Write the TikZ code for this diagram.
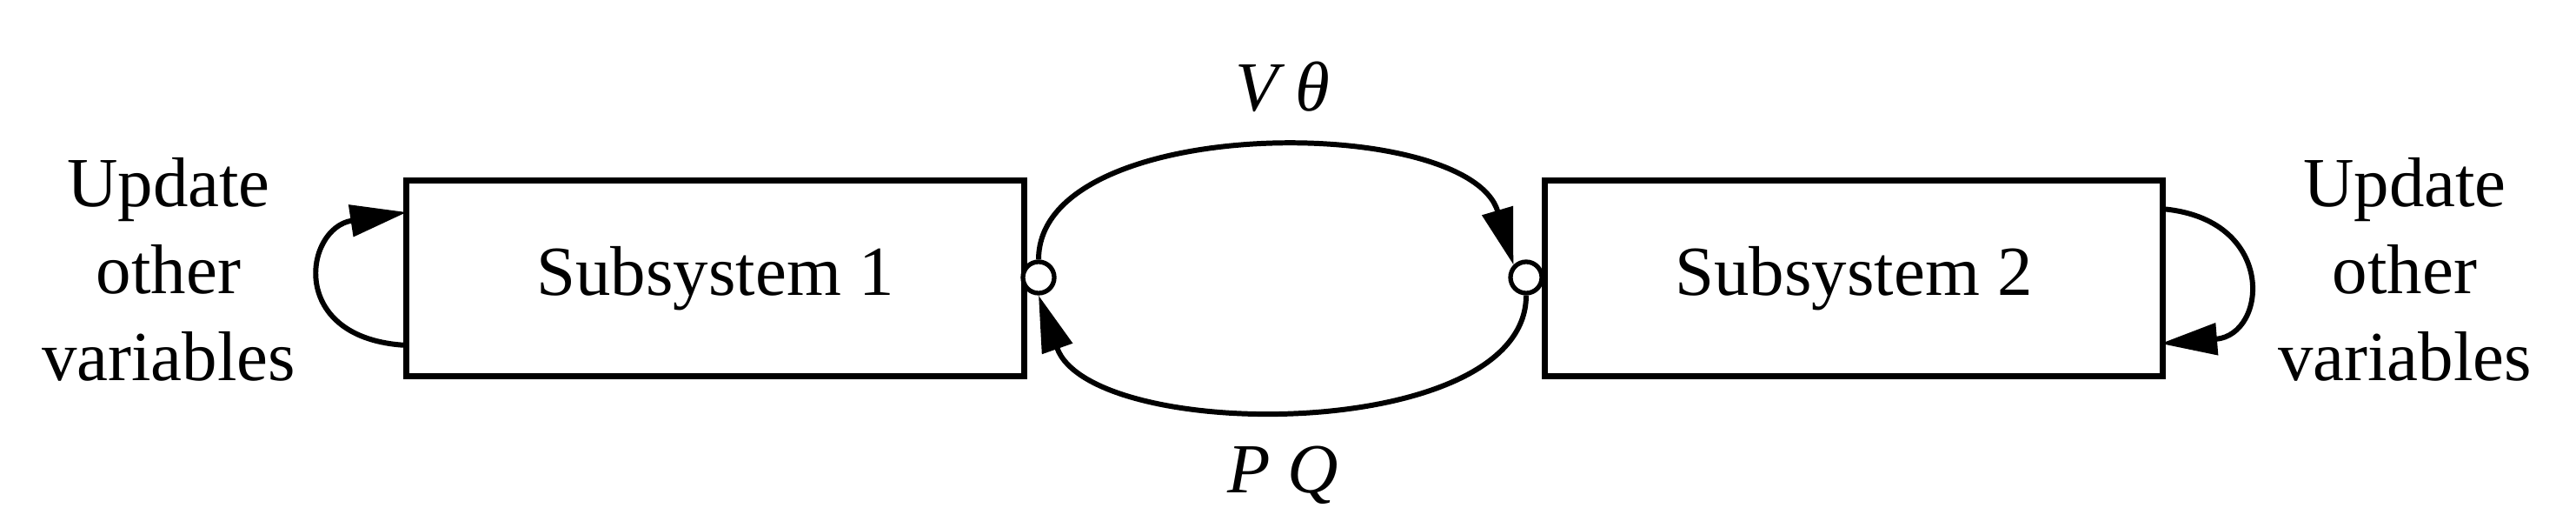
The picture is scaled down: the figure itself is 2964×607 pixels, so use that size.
\documentclass[tikz,border=0pt]{standalone}
\usepackage{fontspec}
\setmainfont{Liberation Serif}
\usetikzlibrary{arrows.meta}
\begin{document}
\begin{tikzpicture}[x=0.01cm,y=-0.01cm,
  box/.style={draw,line width=1.9pt,minimum width=7.1cm,minimum height=2.25cm,font=\fontsize{23}{28}\selectfont},
  port/.style={circle,draw,line width=1.5pt,fill=white,inner sep=0pt,minimum size=0.36cm},
  lbl/.style={align=center,font=\fontsize{23}{28.5}\selectfont},
  conn/.style={line width=1.7pt,-{Triangle[length=0.65cm,width=0.36cm]}}]
\useasboundingbox (0,0) rectangle (2964,607);
\node[box] (b1) at (823,320) {Subsystem 1};
\node[box] (b2) at (2133,320) {Subsystem 2};
\coordinate (l1) at (468,397);
\coordinate (l2) at (468,244);
\coordinate (r1) at (2486,240);
\coordinate (r2) at (2486,395);
\draw[conn] (l1) .. controls (330,390) and (350,262) .. (l2);
\draw[conn] (r1) .. controls (2620,250) and (2610,385) .. (r2);
\node[port] (c1) at (1195,319) {};
\node[port] (c2) at (1756,319) {};
\draw[conn] (c1.north) .. controls (1195,130) and (1690,130) .. (c2.north west);
\draw[conn] (c2.south) .. controls (1756,510) and (1255,510) .. (c1.south);
\node[lbl] (t1) at (1476,100) {\textit{V θ}};
\node[lbl] (t2) at (1476,546) {\textit{P Q}};
\node[lbl] (u1) at (194,310) {Update\\other\\variables};
\node[lbl] (u2) at (2767,310) {Update\\other\\variables};
\end{tikzpicture}
\end{document}
